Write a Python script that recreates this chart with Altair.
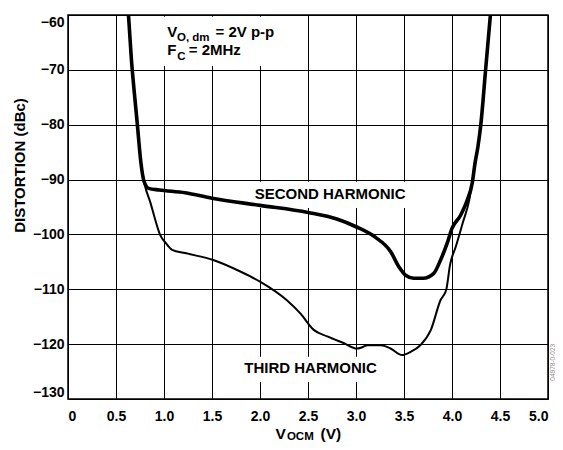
import altair as alt
import pandas as pd

# ---- data ----
second_v = [0.63, 0.66, 0.69, 0.72, 0.76, 0.79, 0.84, 0.95, 1.22, 1.5, 2.0, 2.5, 2.8, 3.0,
            3.2, 3.36, 3.45, 3.52, 3.6, 3.7, 3.81, 3.88, 3.95, 4.0, 4.09, 4.16, 4.21,
            4.24, 4.27, 4.30, 4.35, 4.40]
second_d = [-60, -68, -74, -79.5, -87, -90.2, -91.6, -91.9, -92.4, -93.4, -94.7, -96.0,
            -97.2, -98.6, -100.5, -103.1, -106.0, -107.5, -108.0, -108.0, -107.1, -104.7,
            -101.6, -98.9, -96.5, -93.7, -90.7, -87.0, -84.0, -80.0, -70.0, -60.0]

third_v = [0.63, 0.66, 0.69, 0.72, 0.76, 0.80, 0.86, 0.91, 0.96, 1.02, 1.085, 1.22, 1.52,
           1.8, 2.0, 2.28, 2.42, 2.56, 2.70, 2.87, 3.01, 3.06, 3.12, 3.26, 3.36, 3.48,
           3.57, 3.67, 3.78, 3.88, 3.94, 3.98, 4.04, 4.11, 4.18, 4.21, 4.24, 4.27, 4.30,
           4.35, 4.40]
third_d = [-60, -68, -74, -79.5, -87, -91.0, -94.3, -97.4, -100.1, -101.6, -102.8, -103.4,
           -104.7, -106.8, -108.6, -112.0, -114.4, -117.4, -118.6, -119.8, -120.8, -120.6,
           -120.2, -120.2, -120.8, -122.0, -121.4, -120.2, -117.4, -112.0, -110.1, -105.5,
           -102.2, -98.0, -93.7, -90.7, -87.0, -84.0, -80.0, -70.0, -60.0]

x_ticks = [0, 0.5, 1.0, 1.5, 2.0, 2.5, 3.0, 3.5, 4.0, 4.5, 5.0]
y_ticks = [-130, -120, -110, -100, -90, -80, -70, -60]

# white label backgrounds (interrupt the grid behind the labels)
box_x1 = [0.96, 1.86, 1.76]
box_x2 = [2.27, 3.60, 3.30]
box_y1 = [-60.3, -90.4, -122.3]
box_y2 = [-69.3, -95.2, -126.9]

# left-aligned text pieces (with subscripts)
txt_x = [1.033, 1.135, 1.536, 1.033, 1.137, 1.258, 2.161, 2.28, 2.63]
txt_y = [-63.95, -64.7, -63.95, -67.3, -68.2, -67.3, -137.29, -137.56, -137.29]
txt_s = ["V", "O, dm", "= 2V p-p", "F", "C", "= 2MHz", "V", "OCM", "(V)"]
txt_f = [15, 11.5, 15, 15, 11.5, 15, 15.5, 11.5, 15.5]

# centered curve labels
lab_x = [2.73, 2.526]
lab_y = [-93.6, -125.26]
lab_s = ["SECOND HARMONIC", "THIRD HARMONIC"]

wm_x = [5.05]
wm_y = [-123.3]
wm_s = ["04978-0-023"]

FONT = "Liberation Sans"

xs = alt.Scale(domain=[0, 5], nice=False, zero=False)
ys = alt.Scale(domain=[-130, -60], nice=False, zero=False)

df2 = pd.DataFrame({"v": second_v, "d": second_d})
df3 = pd.DataFrame({"v": third_v, "d": third_d})
dfb = pd.DataFrame({"x1": box_x1, "x2": box_x2, "y1": box_y1, "y2": box_y2})
dft = pd.DataFrame({"x": txt_x, "y": txt_y, "t": txt_s, "f": txt_f})
dfl = pd.DataFrame({"x": lab_x, "y": lab_y, "t": lab_s})
dfw = pd.DataFrame({"x": wm_x, "y": wm_y, "t": wm_s})

xaxis = alt.Axis(values=x_ticks, title=None, grid=True, ticks=False, domain=False,
                 labelExpr="datum.value == 0 ? '0' : format(datum.value, '.1f')",
                 labelPadding=10, labelBaseline="top")
yaxis = alt.Axis(values=y_ticks, title="DISTORTION (dBc)", grid=True, ticks=False,
                 domain=False, labelFlush=True, labelPadding=4,
                 labelExpr="replace(format(datum.value, 'd'), '-', '\u2013')",
                 titleX=-41, titleY=150, titleFontSize=15)

boxes = alt.Chart(dfb).mark_rect(color="white").encode(
    x=alt.X("x1:Q", scale=xs, axis=xaxis),
    x2="x2:Q",
    y=alt.Y("y1:Q", scale=ys, axis=yaxis),
    y2="y2:Q",
)

l2 = alt.Chart(df2).mark_line(color="black", strokeWidth=3.6, interpolate="monotone",
                              clip=True).encode(
    x=alt.X("v:Q", scale=xs), y=alt.Y("d:Q", scale=ys))
l3 = alt.Chart(df3).mark_line(color="black", strokeWidth=2.0, interpolate="monotone",
                              clip=True).encode(
    x=alt.X("v:Q", scale=xs), y=alt.Y("d:Q", scale=ys))

tleft = alt.Chart(dft).mark_text(align="left", baseline="alphabetic", font=FONT,
                                 fontWeight="bold", color="black").encode(
    x=alt.X("x:Q", scale=xs), y=alt.Y("y:Q", scale=ys), text="t:N",
    size=alt.Size("f:Q", scale=None))

tlab = alt.Chart(dfl).mark_text(align="center", baseline="alphabetic", font=FONT,
                                fontWeight="bold", fontSize=15, color="black").encode(
    x=alt.X("x:Q", scale=xs), y=alt.Y("y:Q", scale=ys), text="t:N")

twm = alt.Chart(dfw).mark_text(align="center", baseline="middle", font=FONT,
                               fontSize=6.5, angle=270, color="#888888").encode(
    x=alt.X("x:Q", scale=xs), y=alt.Y("y:Q", scale=ys), text="t:N")

chart = alt.layer(boxes, l3, l2, tleft, tlab, twm).properties(
    width=480, height=384,
    autosize=alt.AutoSizeParams(type="none"),
    padding={"left": 60, "top": 7, "right": 7, "bottom": 43},
    background="white",
).configure_view(
    stroke="black", strokeWidth=1.5
).configure_axis(
    gridColor="black", gridWidth=1, gridOpacity=1,
    labelFont=FONT, labelFontWeight="bold", labelFontSize=14, labelColor="black",
    titleFont=FONT, titleFontWeight="bold", titleColor="black",
)

chart.save("out.html", embed_options={"renderer": "svg", "actions": False})
